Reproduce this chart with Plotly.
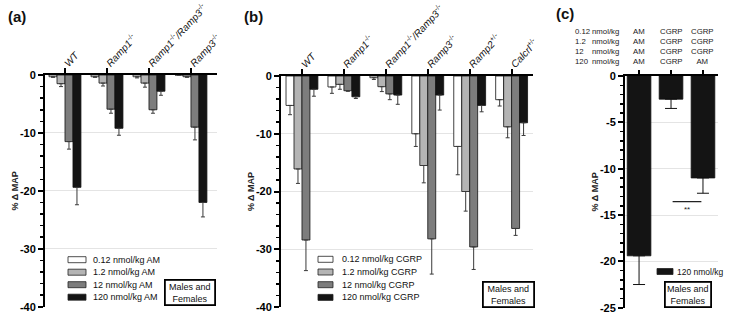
import plotly.graph_objects as go

W, H = 729, 320
FONT = "Liberation Sans, Arial, sans-serif"

# ---------------- data ----------------
# Panel (a): AM in genotypes
geno_a = ["<i>WT</i>", "<i>Ramp1</i><sup>-/-</sup>",
          "<i>Ramp1</i><sup>-/-</sup><i>/Ramp3</i><sup>-/-</sup>", "<i>Ramp3</i><sup>-/-</sup>"]
legend_a = ["0.12 nmol/kg AM", "1.2 nmol/kg AM", "12 nmol/kg AM", "120 nmol/kg AM"]
am_0_12 = [-0.3, -0.3, -0.3, 0.0]
am_0_12_err = [0.1, 0.1, 0.2, 0.0]
am_1_2 = [-1.5, -1.4, -1.4, -0.3]
am_1_2_err = [0.5, 0.5, 0.7, 0.1]
am_12 = [-11.5, -5.9, -6.0, -9.0]
am_12_err = [1.3, 0.7, 0.6, 2.2]
am_120 = [-19.4, -9.2, -2.8, -22.0]
am_120_err = [3.0, 1.2, 0.7, 2.5]

# Panel (b): CGRP in genotypes
geno_b = ["<i>WT</i>", "<i>Ramp1</i><sup>-/-</sup>",
          "<i>Ramp1</i><sup>-/-</sup><i>/Ramp3</i><sup>-/-</sup>", "<i>Ramp3</i><sup>-/-</sup>",
          "<i>Ramp2</i><sup>+/-</sup>", "<i>Calcrl</i><sup>+/-</sup>"]
legend_b = ["0.12 nmol/kg CGRP", "1.2 nmol/kg CGRP", "12 nmol/kg CGRP", "120 nmol/kg CGRP"]
cgrp_0_12 = [-5.1, -1.9, -0.3, -10.0, -12.2, -4.1]
cgrp_0_12_err = [1.6, 1.1, 0.3, 2.2, 4.9, 1.1]
cgrp_1_2 = [-16.1, -1.45, -1.85, -15.5, -20.0, -8.8]
cgrp_1_2_err = [2.5, 0.85, 0.85, 3.0, 3.4, 1.9]
cgrp_12 = [-28.4, -2.55, -3.1, -28.2, -29.6, -26.4]
cgrp_12_err = [5.3, 0.1, 1.0, 6.1, 3.9, 1.2]
cgrp_120 = [-2.3, -3.6, -3.3, -3.3, -5.1, -8.1]
cgrp_120_err = [1.2, 0.3, 1.6, 2.6, 1.1, 2.2]

# Panel (c): sequential dosing, 120 nmol/kg response
doses_c = ["0.12", "1.2", "12", "120"]
seq_col1 = ["AM", "AM", "AM", "AM"]
seq_col2 = ["CGRP", "CGRP", "CGRP", "CGRP"]
seq_col3 = ["CGRP", "CGRP", "CGRP", "AM"]
legend_c = ["120 nmol/kg"]
resp_120 = [-19.4, -2.5, -11.0]
resp_120_err = [3.1, 1.0, 1.65]
sig_pair = [1, 2]
sig_level = -13.55
sig_text = "**"

y_ticks_ab = [0, -10, -20, -30, -40]
y_ticks_c = [0, -5, -10, -15, -20, -25]
sex_text = "Males and<br>Females"

# ---------------- style ----------------
dose_colors = ["#ffffff", "#b4b4b4", "#7d7d7d", "#141414"]

fig = go.Figure()


def add_bars(vals, errs, xa, ya, color, cap=2, ecol="#3a3a3a", width=None):
    x = list(range(len(vals)))
    kw = {}
    if width is not None:
        kw["width"] = width
    fig.add_trace(go.Bar(
        x=x, y=vals, xaxis=xa, yaxis=ya, showlegend=False,
        marker=dict(color=color, line=dict(color="#111111", width=0.8)),
        error_y=dict(type="data", symmetric=False, array=[0] * len(vals),
                     arrayminus=errs, color=ecol, thickness=1, width=cap),
        **kw))


for v, e, c in zip([am_0_12, am_1_2, am_12, am_120],
                   [am_0_12_err, am_1_2_err, am_12_err, am_120_err], dose_colors):
    add_bars(v, e, "x", "y", c)
for v, e, c in zip([cgrp_0_12, cgrp_1_2, cgrp_12, cgrp_120],
                   [cgrp_0_12_err, cgrp_1_2_err, cgrp_12_err, cgrp_120_err], dose_colors):
    add_bars(v, e, "x2", "y2", c)
add_bars(resp_120, resp_120_err, "x3", "y3", "#141414", cap=6, ecol="#111111", width=0.74)


def xax(dom, rng, labels, anchor):
    return dict(domain=dom, range=rng, anchor=anchor, side="top", automargin=False,
                showline=True, linecolor="black", linewidth=2,
                ticks="outside", ticklen=5, tickwidth=2, tickcolor="black",
                tickvals=list(range(len(labels))), ticktext=labels,
                tickangle=-47, ticklabelstandoff=-5,
                tickfont=dict(family=FONT, size=10, color="#111"),
                showgrid=False, zeroline=False, fixedrange=True)


def yax(dom, rng, ticks, minor, anchor):
    return dict(domain=dom, range=rng, anchor=anchor, automargin=False,
                showline=True, linecolor="black", linewidth=2,
                ticks="outside", ticklen=5, tickwidth=2, tickcolor="black",
                tickvals=ticks, ticktext=[str(t) for t in ticks],
                tickfont=dict(family=FONT, size=11, color="black", weight="bold"),
                minor=dict(dtick=minor, ticks="outside", ticklen=3, tickwidth=1.5,
                           tickcolor="black", showgrid=False),
                showgrid=True, gridcolor="#e4e4e4", gridwidth=1,
                zeroline=False, fixedrange=True,
                title=dict(text="% \u0394 MAP", standoff=0,
                           font=dict(family=FONT, size=9, color="#222", weight="bold")))


fig.update_layout(
    template="none",
    width=W, height=H, autosize=False,
    margin=dict(l=0, r=0, t=0, b=0, pad=0),
    paper_bgcolor="white", plot_bgcolor="white",
    barmode="group", bargap=0.24, bargroupgap=0,
    showlegend=False, hovermode=False,
    font=dict(family=FONT),
    xaxis=xax([45 / W, 217 / W], [-0.476, 3.62], geno_a, "y"),
    yaxis=yax([1 - 306.7 / H, 1 - 75 / H], [-40, 0], y_ticks_ab, 2, "x"),
    xaxis2=xax([281 / W, 533 / W], [-0.5, 5.51], geno_b, "y2"),
    yaxis2=yax([1 - 307 / H, 1 - 76 / H], [-40, 0], y_ticks_ab, 2, "x2"),
    xaxis3=dict(domain=[625 / W, 718 / W], range=[-0.44, 2.47], anchor="y3", side="top",
                automargin=False, fixedrange=True,
                showline=True, linecolor="black", linewidth=2,
                ticks="outside", ticklen=4, tickwidth=2, tickcolor="black",
                tickvals=[0, 1, 2], showticklabels=False,
                showgrid=False, zeroline=False),
    yaxis3=yax([1 - 307.7 / H, 1 - 76 / H], [-25, 0], y_ticks_c, 1, "x3"),
)

ann = []
shapes = []

# panel letters
for txt, px, py in [("(a)", 6, 16), ("(b)", 242, 16), ("(c)", 554, 14)]:
    ann.append(dict(text=txt, x=px / W, y=1 - py / H, xref="paper", yref="paper",
                    xanchor="left", yanchor="middle", showarrow=False,
                    font=dict(family=FONT, size=15, color="#111", weight="bold")))


def manual_legend(labels, colors, sx, sw, sh, y0, dy, tx, fs=9):
    for i, (lab, col) in enumerate(zip(labels, colors)):
        yc = y0 + i * dy
        shapes.append(dict(type="rect", xref="paper", yref="paper",
                           x0=sx / W, x1=(sx + sw) / W,
                           y0=1 - (yc + sh / 2) / H, y1=1 - (yc - sh / 2) / H,
                           fillcolor=col, line=dict(color="#222", width=0.8)))
        ann.append(dict(text=lab, x=tx / W, y=1 - yc / H, xref="paper", yref="paper",
                        xanchor="left", yanchor="middle", showarrow=False,
                        font=dict(family=FONT, size=fs, color="#111")))


manual_legend(legend_a, dose_colors, 68, 18, 6, 259.7, 12.5, 90.5)
manual_legend(legend_b, dose_colors, 318, 15, 6, 259.3, 12.7, 340)
manual_legend(legend_c, ["#141414"], 657, 16, 6, 271.5, 0, 674.5, fs=8.5)

# Males and Females boxes
for cx, cy, w in [(189.5, 292, 46), (508.5, 294.5, 47), (688, 294.5, 42)]:
    ann.append(dict(text=sex_text, x=cx / W, y=1 - cy / H, xref="paper", yref="paper",
                    xanchor="center", yanchor="middle", showarrow=False, align="center",
                    width=w, bordercolor="black", borderwidth=1.8, borderpad=1,
                    bgcolor="white",
                    font=dict(family=FONT, size=9, color="#111")))

# Panel (c) header table: one multi-line text per column
hdr_font = dict(family=FONT, size=7.8, color="#222")
hdr_y = 1 - 47 / H
ann.append(dict(text="<br>".join(doses_c), x=573 / W, y=hdr_y, xref="paper", yref="paper",
                xanchor="left", yanchor="middle", align="left", showarrow=False,
                font=hdr_font))
ann.append(dict(text="<br>".join(["nmol/kg"] * len(doses_c)), x=590 / W, y=hdr_y,
                xref="paper", yref="paper", xanchor="left", yanchor="middle",
                align="left", showarrow=False, font=hdr_font))
for j, col in enumerate([seq_col1, seq_col2, seq_col3]):
    ann.append(dict(text="<br>".join(col), x=j, y=hdr_y, xref="x3", yref="paper",
                    xanchor="center", yanchor="middle", align="center", showarrow=False,
                    font=hdr_font))

# significance bar
shapes.append(dict(type="line", xref="x3", yref="y3",
                   x0=sig_pair[0] + 0.05, x1=sig_pair[1] - 0.05,
                   y0=sig_level, y1=sig_level, line=dict(color="#222", width=1.3)))
ann.append(dict(text=sig_text, x=(sig_pair[0] + sig_pair[1]) / 2, y=sig_level,
                xref="x3", yref="y3", xanchor="center", yanchor="top", yshift=-1,
                showarrow=False, font=dict(family=FONT, size=8, color="#222")))

fig.update_layout(annotations=ann, shapes=shapes)
fig.write_html("out.html",
               config={"displayModeBar": False, "staticPlot": True},
               post_script="document.body.style.margin='0px';"
                           "document.body.style.overflow='hidden';")
